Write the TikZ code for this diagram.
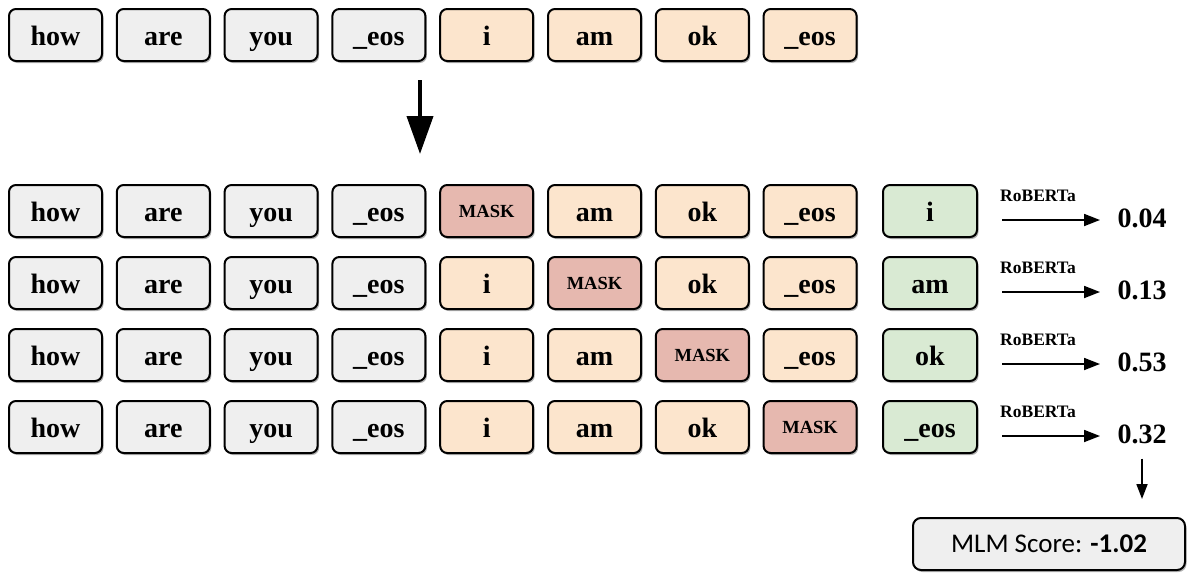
\documentclass[tikz,border=0pt]{standalone}
\usepackage{fontspec}
\setmainfont{Liberation Serif}
\newfontfamily\carl{Carlito}
\usetikzlibrary{shadows,arrows.meta}
\definecolor{grayc}{HTML}{EFEFEF}
\definecolor{peachc}{HTML}{FCE5CD}
\definecolor{maskc}{HTML}{E6B8AF}
\definecolor{greenc}{HTML}{D9EAD3}
\begin{document}
\begin{tikzpicture}[x=1pt,y=-1pt,
  tok/.style={draw=black, line width=2pt, rounded corners=7pt,
    minimum width=93pt, minimum height=52pt, inner sep=0pt,
    text height=23pt, text depth=3pt,
    font=\fontsize{28}{30}\selectfont\bfseries,
    drop shadow={shadow xshift=1.5pt, shadow yshift=-2pt, opacity=0.3, fill=black}},
  masktxt/.style={font=\fontsize{18.5}{20}\selectfont\bfseries, text height=12pt, text depth=0pt},
  numtxt/.style={font=\fontsize{28}{30}\selectfont\bfseries, inner sep=0pt, anchor=center},
  modeltxt/.style={font=\fontsize{17.5}{19}\selectfont\bfseries, inner sep=0pt},
  thin arrow/.style={line width=1.8pt, -{Triangle[length=16pt,width=12pt]}},
]
\useasboundingbox (0,0) rectangle (1188,573);

% top row
\foreach \w [count=\c from 0] in {how,are,you,\_eos}
  \node[tok, fill=grayc] (top\c) at ({55.5+107.8*\c},35) {\w};
\foreach \w [count=\c from 4] in {i,am,ok,\_eos}
  \node[tok, fill=peachc] (top\c) at ({55.5+107.8*\c},35) {\w};

% big arrow
\coordinate (bigA) at (420,80);
\coordinate (bigB) at (420,154);
\draw[line width=4pt, -{Triangle[length=38pt,width=26pt]}] (bigA) -- (bigB);

% masked rows
\foreach \r/\g/\p in {1/i/0.04, 2/am/0.13, 3/ok/0.53, 4/\_eos/0.32} {
  \pgfmathsetmacro\yy{211+72*(\r-1)}
  \foreach \w [count=\c from 0] in {how,are,you,\_eos}
    \node[tok, fill=grayc] (r\r c\c) at ({55.5+107.8*\c},\yy) {\w};
  \foreach \w [count=\c from 4] in {i,am,ok,\_eos} {
    \ifnum\c=\numexpr\r+3\relax
      \node[tok, fill=maskc, masktxt] (r\r c\c) at ({55.5+107.8*\c},\yy) {MASK};
    \else
      \node[tok, fill=peachc] (r\r c\c) at ({55.5+107.8*\c},\yy) {\w};
    \fi
  }
  \node[tok, fill=greenc, minimum width=94pt] (g\r) at (930,\yy) {\g};
  \coordinate (a\r) at (1002,\yy+9);
  \node[numtxt] (n\r) at (1142,\yy+7) {\p};
  \coordinate (b\r) at (1100,\yy+9);
  \draw[thin arrow] (a\r) -- (b\r);
  \node[modeltxt] (m\r) at (1038,\yy-15) {RoBERTa};
}

% MLM score
\node[draw=black, line width=2pt, rounded corners=8pt, fill=grayc,
  minimum width=272pt, minimum height=52pt, inner sep=0pt,
  font=\carl\fontsize{27}{28}\selectfont,
  drop shadow={shadow xshift=1.5pt, shadow yshift=-2pt, opacity=0.3, fill=black}]
  (mlm) at (1049,544) {MLM Score: \textbf{-1.02}};
\draw[line width=1.8pt, -{Triangle[length=15pt,width=11pt]}, shorten <=15pt, shorten >=18pt] (n4.south) -- (n4.south |- mlm.north);
\end{tikzpicture}
\end{document}
